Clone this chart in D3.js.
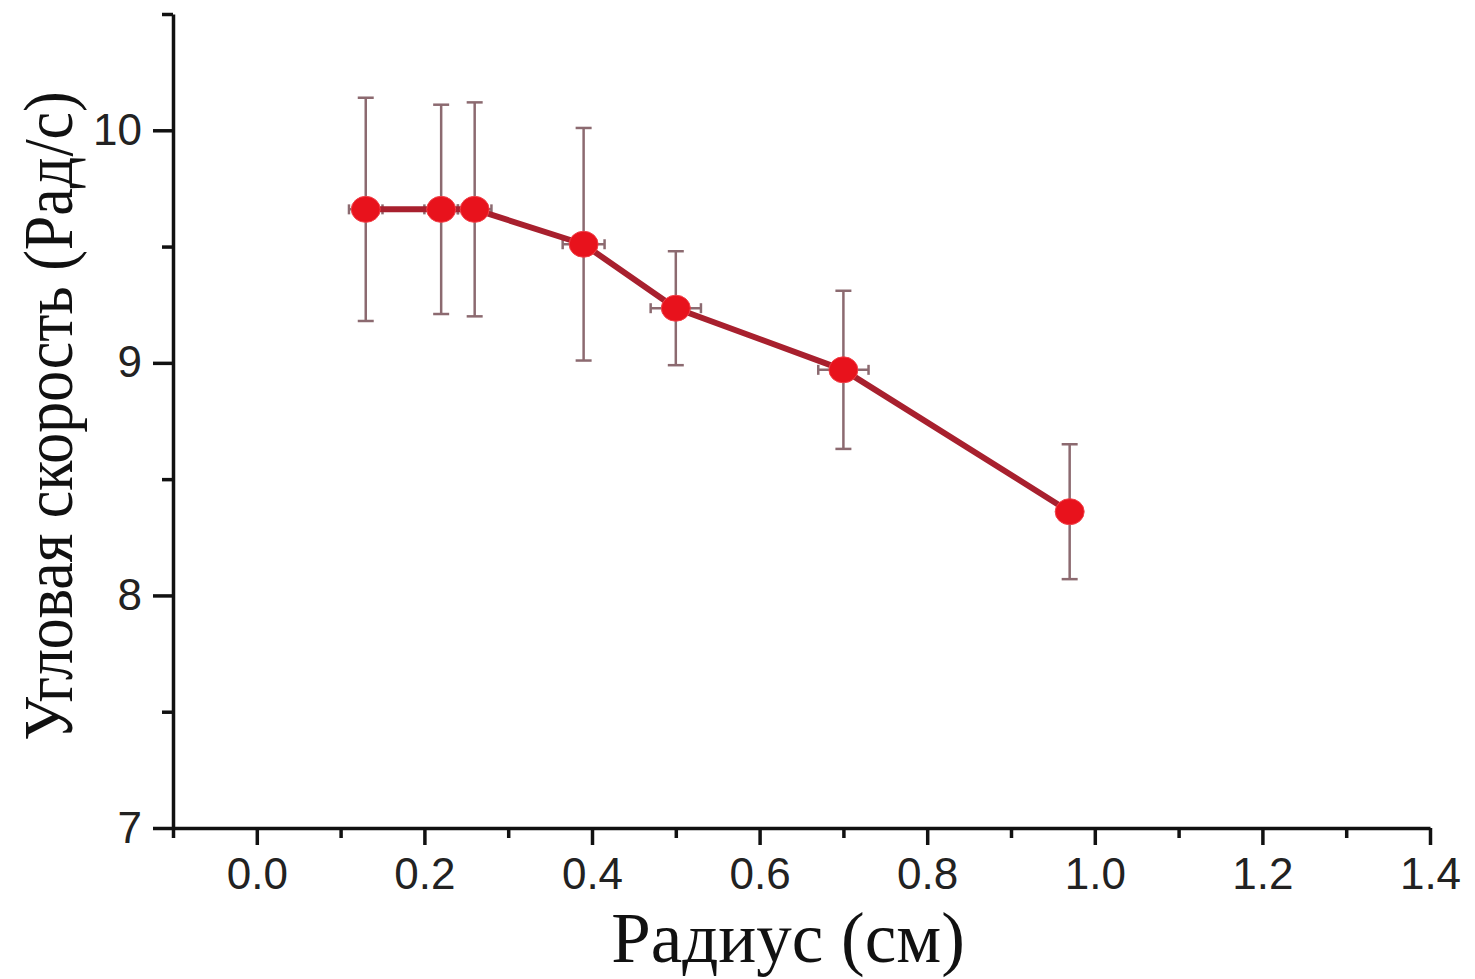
<!DOCTYPE html>
<html>
<head>
<meta charset="utf-8">
<script src="https://cdn.jsdelivr.net/npm/d3@7/dist/d3.min.js"></script>
<style>
  html, body { margin: 0; padding: 0; background: #ffffff; }
  svg { display: block; }
</style>
</head>
<body>
<svg id="chart" width="1475" height="979"></svg>
<script>
// ---- data ----
const radius = [0.13, 0.22, 0.26, 0.39, 0.50, 0.70, 0.97];
const angularSpeed = [9.66, 9.66, 9.66, 9.51, 9.235, 8.97, 8.36];
const yErr = [0.48, 0.45, 0.46, 0.50, 0.245, 0.34, 0.29];
const xErr = [0.02, 0.02, 0.02, 0.025, 0.03, 0.03, 0.01];
const xMajorTicks = [0.0, 0.2, 0.4, 0.6, 0.8, 1.0, 1.2, 1.4];
const xMinorTicks = [-0.1, 0.1, 0.3, 0.5, 0.7, 0.9, 1.1, 1.3];
const yMajorTicks = [7, 8, 9, 10];
const yMinorTicks = [7.5, 8.5, 9.5, 10.5];
const xTitle = "Радиус (см)";
const yTitle = "Угловая скорость (Рад/с)";

const points = radius.map((r, i) => ({x: r, y: angularSpeed[i], ey: yErr[i], ex: xErr[i]}));

const svg = d3.select("#chart");
const x = d3.scaleLinear().domain([-0.1, 1.4]).range([173, 1430]);
const y = d3.scaleLinear().domain([7, 10.5]).range([828, 14]);

const tickFont = "'Liberation Sans', Arial, sans-serif";
const titleFont = "'Liberation Serif', 'Times New Roman', serif";

// x axis
const gx = svg.append("g").attr("transform", `translate(0,${y(7)})`);
gx.call(d3.axisBottom(x).tickValues(xMajorTicks).tickSize(17).tickPadding(13)
  .tickFormat(d3.format(".1f")).tickSizeOuter(0));
gx.append("g").call(d3.axisBottom(x).tickValues(xMinorTicks).tickSize(10).tickFormat("").tickSizeOuter(0))
  .select(".domain").remove();
gx.selectAll("path.domain").attr("stroke", "#111").attr("stroke-width", 3.5);
gx.selectAll(".tick line").attr("stroke", "#111").attr("stroke-width", 3.5);
gx.selectAll(".tick text").attr("font-family", tickFont).attr("font-size", 44).attr("fill", "#222");

// y axis
const gy = svg.append("g").attr("transform", `translate(${x(-0.1)},0)`);
gy.call(d3.axisLeft(y).tickValues(yMajorTicks).tickSize(20).tickPadding(11)
  .tickFormat(d3.format("d")).tickSizeOuter(0));
gy.append("g").call(d3.axisLeft(y).tickValues(yMinorTicks).tickSize(11).tickFormat("").tickSizeOuter(0))
  .select(".domain").remove();
gy.selectAll("path.domain").attr("stroke", "#111").attr("stroke-width", 3.5);
gy.selectAll(".tick line").attr("stroke", "#111").attr("stroke-width", 3.5);
gy.selectAll(".tick text").attr("font-family", tickFont).attr("font-size", 44).attr("fill", "#222");

// titles
svg.append("text")
  .attr("x", 788).attr("y", 962)
  .attr("text-anchor", "middle")
  .attr("font-family", titleFont).attr("font-size", 71).attr("fill", "#111")
  .text(xTitle);
svg.append("text")
  .attr("transform", `translate(72,${416}) rotate(-90) scale(1,1.12)`)
  .attr("text-anchor", "middle")
  .attr("font-family", titleFont).attr("font-size", 62).attr("fill", "#111")
  .text(yTitle);

// error bars
const errColor = "#8c6a70";
const eb = svg.append("g").attr("stroke", errColor).attr("stroke-width", 2.5).attr("fill", "none");
const capW = 8, capH = 5;
points.forEach(p => {
  const g = eb.append("g");
  // vertical
  g.append("line").attr("x1", x(p.x)).attr("x2", x(p.x)).attr("y1", y(p.y + p.ey)).attr("y2", y(p.y - p.ey));
  g.append("line").attr("x1", x(p.x) - capW).attr("x2", x(p.x) + capW).attr("y1", y(p.y + p.ey)).attr("y2", y(p.y + p.ey));
  g.append("line").attr("x1", x(p.x) - capW).attr("x2", x(p.x) + capW).attr("y1", y(p.y - p.ey)).attr("y2", y(p.y - p.ey));
  // horizontal
  g.append("line").attr("x1", x(p.x - p.ex)).attr("x2", x(p.x + p.ex)).attr("y1", y(p.y)).attr("y2", y(p.y));
  g.append("line").attr("x1", x(p.x - p.ex)).attr("x2", x(p.x - p.ex)).attr("y1", y(p.y) - capH).attr("y2", y(p.y) + capH);
  g.append("line").attr("x1", x(p.x + p.ex)).attr("x2", x(p.x + p.ex)).attr("y1", y(p.y) - capH).attr("y2", y(p.y) + capH);
});

// line
const line = d3.line().x(d => x(d.x)).y(d => y(d.y));
svg.append("path").datum(points)
  .attr("d", line)
  .attr("fill", "none")
  .attr("stroke", "#a8202e")
  .attr("stroke-width", 6)
  .attr("stroke-linejoin", "round");

// markers
svg.append("g").selectAll("ellipse").data(points).join("ellipse")
  .attr("cx", d => x(d.x)).attr("cy", d => y(d.y))
  .attr("rx", 14.5).attr("ry", 13)
  .attr("fill", "#e8121c")
  .attr("stroke", "#f04048").attr("stroke-width", 1);
</script>
</body>
</html>
